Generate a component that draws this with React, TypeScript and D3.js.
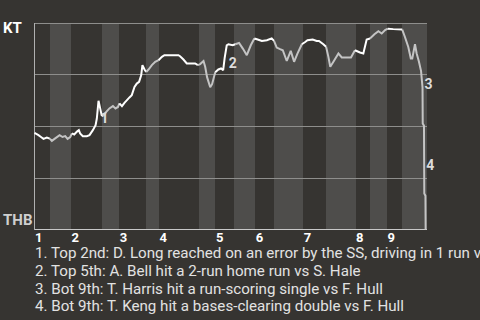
import React from 'react';
import * as d3 from 'd3';

const WIDTH = 480;
const HEIGHT = 320;

const AWAY_TEAM = 'KT';
const HOME_TEAM = 'THB';
const INNING_LABELS = ['1', '2', '3', '4', '5', '6', '7', '8', '9'];

// Play-sequence position at which each half inning ends (top 1st, bottom 1st, ...)
const HALF_INNING_ENDS = [
  7.5, 17.5, 32.5, 40.5, 53.5, 59.5, 78.5, 86.5, 95.5,
  105.5, 114.5, 128.5, 139.5, 153.5, 160.5, 168.5, 175.5, 187.5,
];

// Play-sequence position of each win-probability reading
const PLAY_SEQ = [
  0, 1.9, 3.1, 4.3, 5.9, 7.3, 8.3, 9.9, 12.0, 13.4, 14.7, 15.8, 17.1,
  17.9, 19.0, 20.3, 21.2, 21.8, 23.1, 25.0, 26.3, 27.9, 29.2, 29.8, 30.6, 31.4, 32.1,
  32.8, 34.3, 35.8, 37.5, 38.7, 39.9,
  40.6, 41.8, 43.0, 44.2, 45.4, 46.5, 47.8, 48.9, 50.0, 51.0, 51.6, 52.6,
  53.4, 54.5, 56.1, 57.7, 59.3,
  60.9, 62.1, 68.8, 69.6, 71.2, 72.8, 76.8, 78.1,
  79.2, 80.8, 81.6, 82.5, 84.0, 84.9, 86.4,
  87.9, 89.2, 90.2, 90.9, 91.9, 92.7, 94.8,
  95.9, 97.8, 99.6, 101.5, 103.4, 105.1,
  106.3, 108.7, 111.1, 113.4, 114.5,
  115.8, 117.4, 118.7, 120.6, 122.5, 124.1, 125.7, 127.8,
  129.4, 130.5, 133.0, 134.9, 136.0, 138.1, 139.4,
  140.5, 141.4, 142.9, 145.3, 146.9, 151.3, 153.2,
  155.6, 157.2, 158.8, 160.4,
  162.5, 164.4, 166.0, 167.6, 168.9,
  171.5, 175.8,
  177.1, 178.7, 179.9, 180.6, 181.9, 182.7, 183.8, 184.8, 185.5, 185.6, 186.2, 186.35, 186.9, 187.0,
];

// KT win probability after each play
const WIN_PROB = [
  0.467, 0.456, 0.447, 0.438, 0.444, 0.439, 0.428, 0.440, 0.456, 0.447, 0.451, 0.438, 0.447,
  0.464, 0.459, 0.473, 0.480, 0.464, 0.451, 0.451, 0.456, 0.480, 0.504, 0.536, 0.622, 0.585, 0.552,
  0.547, 0.568, 0.585, 0.596, 0.585, 0.592,
  0.609, 0.596, 0.612, 0.625, 0.638, 0.649, 0.689, 0.705, 0.713, 0.745, 0.794, 0.773,
  0.761, 0.773, 0.794, 0.810, 0.818,
  0.834, 0.842, 0.842, 0.837, 0.821, 0.802, 0.802, 0.794,
  0.799, 0.814, 0.786, 0.736, 0.687, 0.702, 0.760,
  0.773, 0.778, 0.770, 0.828, 0.890, 0.895, 0.890,
  0.895, 0.901, 0.874, 0.842, 0.890, 0.923,
  0.919, 0.911, 0.914, 0.923, 0.911,
  0.879, 0.871, 0.866, 0.814, 0.863, 0.810, 0.850, 0.895,
  0.906, 0.914, 0.918, 0.911, 0.911, 0.895, 0.883,
  0.834, 0.786, 0.810, 0.850, 0.831, 0.831, 0.866,
  0.855, 0.850, 0.918, 0.923,
  0.943, 0.958, 0.947, 0.963, 0.970,
  0.968, 0.966,
  0.930, 0.882, 0.826, 0.826, 0.895, 0.850, 0.810, 0.765, 0.687, 0.512, 0.501, 0.174, 0.163, 0,
];

// Key plays: reading index where the play starts and where it ends
const KEY_PLAY_LABELS = ['1', '2', '3', '4'];
const KEY_PLAY_FROM = [22, 67, 123, 126];
const KEY_PLAY_TO = [24, 69, 124, 127];

const KEY_PLAY_NOTES = [
  '1. Top 2nd: D. Long reached on an error by the SS, driving in 1 run vs S. Hale',
  '2. Top 5th: A. Bell hit a 2-run home run vs S. Hale',
  '3. Bot 9th: T. Harris hit a run-scoring single vs F. Hull',
  '4. Bot 9th: T. Keng hit a bases-clearing double vs F. Hull',
];

const GRID_PROBS = [0.25, 0.5, 0.75, 1];

const BG = '#363431';
const BAND_LIGHT = '#4e4d4b';
const AWAY_LINE = '#ffffff';
const HOME_LINE = '#c4c4c4';
const FONT = 'Roboto, "Noto Sans", sans-serif';

export default function App() {
  const plotLeft = 34.5;
  const plotRight = 426.7;
  const plotTop = 22.5;
  const plotBottom = 229.5;

  const x = d3.scaleLinear().domain([0, HALF_INNING_ENDS[HALF_INNING_ENDS.length - 1]]).range([plotLeft, plotRight]);
  const y = d3.scaleLinear().domain([0, 1]).range([plotBottom, plotTop]);

  const starts = [0, ...HALF_INNING_ENDS.slice(0, -1)];
  const halfOf = (v: number) => {
    const i = HALF_INNING_ENDS.findIndex((e) => v <= e);
    return i < 0 ? HALF_INNING_ENDS.length - 1 : i;
  };

  const points: [number, number][] = PLAY_SEQ.map((s, i) => [s, WIN_PROB[i]]);

  // Group consecutive segments by the half inning they fall in
  const groups: { half: number; pts: [number, number][] }[] = [];
  for (let i = 0; i < points.length - 1; i++) {
    const mid = (points[i][0] + points[i + 1][0]) / 2;
    const h = halfOf(mid);
    const last = groups[groups.length - 1];
    if (last && last.half === h) {
      last.pts.push(points[i + 1]);
    } else {
      groups.push({ half: h, pts: [points[i], points[i + 1]] });
    }
  }

  const line = d3
    .line<[number, number]>()
    .x((d) => x(d[0]))
    .y((d) => y(d[1]));

  return (
    <svg
      width={WIDTH}
      height={HEIGHT}
      style={{ position: 'fixed', left: 0, top: 0, display: 'block' }}
      fontFamily={FONT}
    >
      <rect x={0} y={0} width={WIDTH} height={HEIGHT} fill={BG} />

      {starts.map((s, i) =>
        i % 2 === 1 ? (
          <rect
            key={`band-${i}`}
            x={x(s)}
            y={plotTop}
            width={x(HALF_INNING_ENDS[i]) - x(s)}
            height={plotBottom - plotTop}
            fill={BAND_LIGHT}
            shapeRendering="crispEdges"
          />
        ) : null
      )}

      {GRID_PROBS.map((p) => (
        <line
          key={`grid-${p}`}
          x1={plotLeft}
          x2={plotRight}
          y1={Math.round(y(p)) + 0.5}
          y2={Math.round(y(p)) + 0.5}
          stroke="#8e8e8c"
          strokeWidth={1}
          shapeRendering="crispEdges"
        />
      ))}

      <line x1={plotLeft} x2={plotLeft} y1={plotTop} y2={plotBottom} stroke="#b0b0b0" strokeWidth={1} shapeRendering="crispEdges" />
      <line x1={plotLeft} x2={plotRight} y1={plotBottom} y2={plotBottom} stroke="#c8c8c8" strokeWidth={1} shapeRendering="crispEdges" />

      {groups.map((g, i) => (
        <path
          key={`seg-${i}`}
          d={line(g.pts) || ''}
          fill="none"
          stroke={g.half % 2 === 0 ? AWAY_LINE : HOME_LINE}
          strokeWidth={2}
          strokeLinejoin="miter"
          strokeMiterlimit={2}
        />
      ))}

      {KEY_PLAY_LABELS.map((lab, i) => {
        const a = points[KEY_PLAY_FROM[i]];
        const b = points[KEY_PLAY_TO[i]];
        const lx = x(Math.max(a[0], b[0])) + 2;
        const ly = (y(a[1]) + y(b[1])) / 2 + 10;
        return (
          <text key={`kp-${i}`} x={lx} y={ly} fill="#dcdcdc" fontSize={14} fontWeight="bold">
            {lab}
          </text>
        );
      })}

      <text x={3} y={33} fill="#ffffff" fontSize={15} fontWeight="bold">
        {AWAY_TEAM}
      </text>
      <text x={3} y={225} fill="#cfcfcf" fontSize={15} fontWeight="bold">
        {HOME_TEAM}
      </text>

      {INNING_LABELS.map((lab, i) => (
        <text
          key={`inn-${lab}`}
          x={x(starts[i * 2]) + 0.5}
          y={241.5}
          fill="#ffffff"
          fontSize={13}
          fontWeight="bold"
        >
          {lab}
        </text>
      ))}

      {KEY_PLAY_NOTES.map((note, i) => (
        <text key={`note-${i}`} x={35} y={258.3 + i * 17.6} fill="#e2e2e2" fontSize={15.15}>
          {note}
        </text>
      ))}
    </svg>
  );
}
